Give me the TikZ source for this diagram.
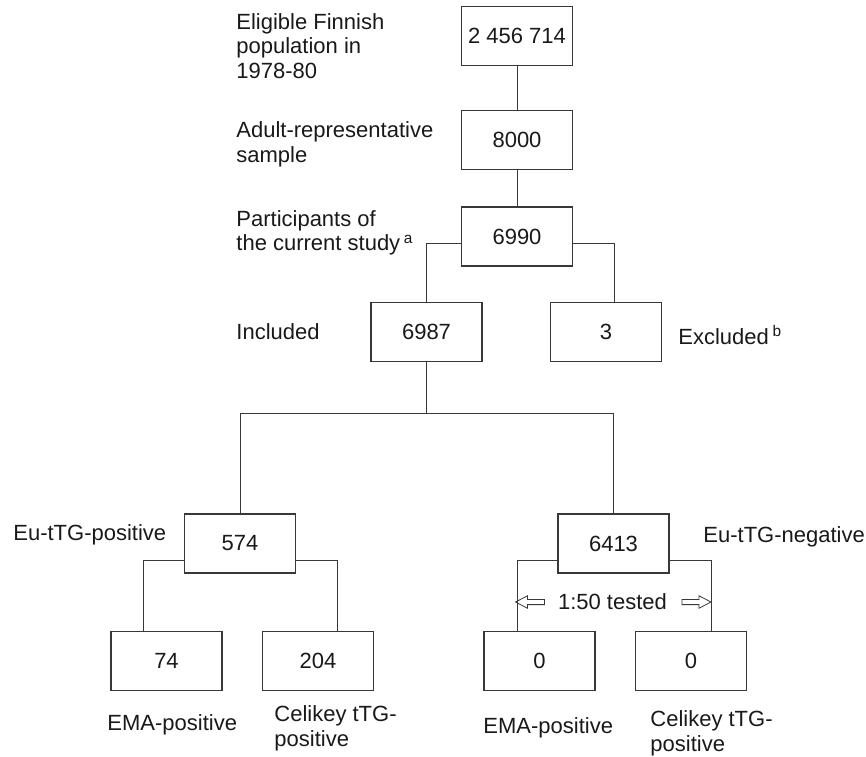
\documentclass[tikz,border=0pt]{standalone}
\usepackage{fontspec}
\setmainfont{Liberation Sans}
\usetikzlibrary{shapes.arrows}

\tikzset{
  cnt/.style={draw=black!78, line width=0.55pt, minimum width=55.5pt,
    minimum height=29.5pt, inner sep=0pt, text=black!90},
  lbl/.style={anchor=west, align=left, inner sep=0pt, text=black!90},
  link/.style={draw=black!78, line width=0.5pt},
  openarr/.style={single arrow, draw=black!78, line width=0.4pt, inner sep=1.1pt,
    minimum height=14.5pt, single arrow head extend=1.8pt,
    single arrow tip angle=55}
}

\begin{document}
\begin{tikzpicture}[x=0.5pt,y=-0.5pt,font=\fontsize{11}{12.3}\selectfont]
            \useasboundingbox (0,0) rectangle (866,756);

            % counts
            \node (pop) [cnt] at (517,36) {2 456 714};
            \node (smp) [cnt] at (517,140) {8000};
            \node (part) [cnt] at (517,236.5) {6990};
            \node (incl) [cnt] at (426.5,332) {6987};
            \node (excl) [cnt] at (606,332) {3};
            \node (pos) [cnt] at (240,543.5) {574};
            \node (neg) [cnt] at (613.5,543.5) {6413};
            \node (posema) [cnt] at (166.5,661) {74};
            \node (poscel) [cnt] at (318,661) {204};
            \node (negema) [cnt] at (539.5,661) {0};
            \node (negcel) [cnt] at (691,661) {0};

            % labels
            \node (popl) [lbl] at (236,46) {Eligible Finnish\\population in\\1978-80};
            \node (smpl) [lbl] at (236,144.5) {Adult-representative\\sample};
            \node (partl) [lbl] at (236,233) {Participants of\\the current study\,\textsuperscript{a}};
            \node (incll) [lbl] at (236,332) {Included};
            \node (excll) [lbl] at (678,335) {Excluded\,\textsuperscript{b}};
            \node (posl) [lbl] at (13,535) {Eu-tTG-positive};
            \node (negl) [lbl] at (703,537) {Eu-tTG-negative};
            \node (posemal) [lbl] at (107,725) {EMA-positive};
            \node (poscell) [lbl] at (274,728.5) {Celikey tTG-\\positive};
            \node (negemal) [lbl] at (483,728) {EMA-positive};
            \node (negcell) [lbl] at (650,733.5) {Celikey tTG-\\positive};
            \node (tested) [lbl, anchor=center] at (612.5,602) {1:50 tested};
            \node (arrl) [openarr, shape border rotate=180] at (532.5,602) {};
            \node (arrr) [openarr] at (694,602) {};

            % links
            \draw[link] (pop) -- (smp);
            \draw[link] (smp) -- (part);
            \draw[link] ([yshift=-3.5pt]part.west) -| (incl.north);
            \draw[link] ([yshift=-3.5pt]part.east) -| ([xshift=4pt]excl.north);

            \coordinate (split) at (426.5,413);
            \draw[link] (incl) -- (split);
            \draw[link] (pos.north) |- (split) -| (neg.north);

            \draw[link] ([yshift=-8.25pt]pos.west) -| ([xshift=-11.75pt]posema.north);
            \draw[link] ([yshift=-8.25pt]pos.east) -| ([xshift=9.5pt]poscel.north);
            \draw[link] ([yshift=-8.25pt]neg.west) -| ([xshift=-11.25pt]negema.north);
            \draw[link] ([yshift=-8.25pt]neg.east) -| ([xshift=10pt]negcel.north);

        \end{tikzpicture}
\end{document}
